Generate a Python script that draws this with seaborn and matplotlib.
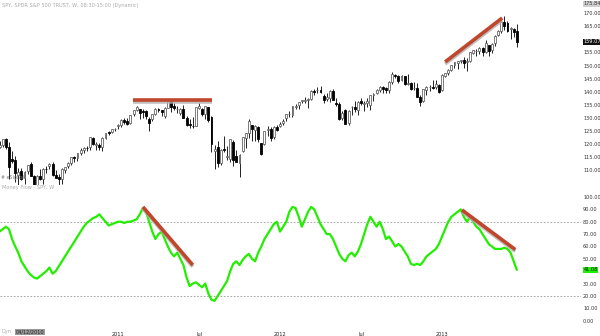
import numpy as np
import pandas as pd
import matplotlib
matplotlib.use("Agg")
import matplotlib.pyplot as plt
import seaborn as sns

# ---------------- data ----------------
week_start = "2010-04-12"
opens = [119.0, 119.5, 121.9, 119.0, 114.2, 113.9, 108.0, 109.5, 107.0, 109.7, 112.5, 107.7, 102.5, 107.9, 106.5, 110.5,
         111.5, 112.2, 108.0, 107.3, 106.4, 110.2, 111.5, 112.8, 114.8, 114.6, 116.6, 117.5, 118.5, 118.7, 122.3, 119.7,
         119.6, 118.7, 122.4, 124.4, 124.5, 125.6,
         126.7, 127.1, 129.2, 128.6, 128.0, 131.4, 133.1, 133.4, 132.7, 132.7, 129.6, 129.5, 131.6, 133.5, 132.8, 130.8,
         133.9, 136.6, 134.5, 133.4, 132.0, 133.5, 130.0, 127.5, 127.0, 127.0, 133.7, 133.5, 131.4, 134.0, 130.4, 117.2,
         118.9, 112.7, 118.2, 115.1, 114.1, 120.6, 115.4, 112.7, 117.2, 122.1, 124.3, 127.2, 125.5, 126.4, 120.2, 119.8,
         125.2, 125.8, 122.6, 126.6,
         126.8, 128.0, 130.0, 131.3, 130.9, 134.2, 135.0, 136.5, 136.5, 136.9, 137.3, 140.3, 140.5, 140.6, 138.5, 137.1,
         137.5, 140.2, 135.7, 135.3, 130.0, 133.0, 128.0, 134.0, 134.3, 132.8, 136.3, 135.4, 135.6, 135.0, 138.6, 139.5,
         140.6, 141.8, 141.3, 140.6, 143.6, 146.4, 146.0, 144.3, 145.9, 142.9, 143.3, 141.4, 141.5, 138.0, 136.4, 140.7,
         141.7, 141.9, 141.6, 142.7,
         140.6, 146.0, 147.1, 148.4, 150.2, 150.8, 151.6, 152.0, 151.2, 151.6, 154.9, 155.5, 155.6, 156.9, 155.3, 157.8,
         156.0, 158.7, 161.6, 163.3, 166.8, 166.1, 163.9, 163.9, 163.1]
highs = [121.2, 121.9, 122.1, 120.7, 117.4, 115.2, 110.8, 110.6, 109.6, 112.1, 113.2, 108.0, 108.1, 110.5, 110.7, 111.6,
         112.8, 113.0, 110.2, 108.3, 110.6, 111.3, 113.0, 114.9, 115.3, 116.6, 118.4, 118.9, 119.2, 122.8, 122.8, 120.8,
         120.5, 122.6, 124.2, 124.8, 125.8, 126.2,
         127.6, 129.5, 130.0, 130.0, 131.1, 133.1, 134.4, 133.5, 133.5, 132.8, 130.3, 131.5, 133.9, 133.8, 132.9, 134.0,
         136.6, 137.2, 135.6, 134.5, 133.7, 134.8, 130.7, 129.4, 130.2, 134.1, 135.7, 133.7, 134.7, 134.3, 130.8, 119.7,
         121.3, 118.0, 123.1, 119.3, 121.8, 121.6, 117.8, 116.0, 122.7, 124.3, 129.5, 127.3, 127.4, 126.9, 120.4, 125.0,
         127.0, 126.4, 126.8, 127.3,
         128.4, 129.4, 131.6, 132.5, 134.5, 135.1, 136.2, 137.0, 137.9, 137.4, 140.6, 140.9, 141.6, 142.2, 139.2, 139.4,
         140.5, 141.1, 137.4, 136.0, 132.5, 133.2, 133.0, 134.5, 136.3, 136.3, 137.5, 136.3, 137.7, 138.8, 139.5, 140.9,
         142.0, 142.2, 141.6, 143.9, 147.5, 146.9, 146.2, 146.4, 146.0, 146.7, 143.6, 143.7, 143.4, 138.8, 140.9, 142.3,
         142.6, 144.4, 144.6, 143.0,
         146.6, 147.2, 148.7, 150.3, 151.2, 151.7, 152.3, 153.3, 152.9, 155.0, 156.0, 156.2, 157.0, 157.2, 159.7, 158.0,
         158.5, 161.6, 163.6, 166.9, 169.1, 167.2, 164.9, 164.4, 165.8]
lows = [118.5, 118.8, 117.9, 106.4, 112.7, 105.4, 103.9, 106.1, 104.5, 108.5, 107.6, 101.1, 102.0, 106.3, 104.7, 108.9,
        110.4, 107.9, 106.9, 103.9, 104.7, 108.9, 110.9, 111.8, 113.2, 113.6, 115.9, 116.4, 117.3, 117.8, 119.6, 117.6,
        117.5, 117.1, 122.0, 123.4, 124.2, 124.9,
        125.7, 126.5, 127.5, 127.1, 127.5, 130.8, 132.5, 129.4, 129.9, 129.5, 124.9, 128.8, 130.9, 132.4, 130.6, 129.8,
        133.7, 132.2, 133.0, 131.7, 131.2, 129.9, 127.0, 125.9, 126.0, 126.7, 133.4, 130.5, 129.5, 128.2, 116.8, 110.3,
        111.3, 112.0, 116.9, 113.7, 113.2, 111.6, 112.9, 107.4, 116.8, 118.6, 122.3, 121.0, 121.1, 120.7, 115.8, 119.6,
        123.1, 121.2, 121.7, 124.9,
        126.4, 127.1, 128.8, 130.4, 130.3, 133.4, 133.5, 135.6, 135.8, 133.6, 136.9, 138.6, 139.4, 139.3, 135.8, 136.3,
        136.0, 136.7, 134.4, 129.2, 129.0, 127.8, 127.4, 131.0, 132.4, 131.0, 135.0, 132.5, 134.1, 133.1, 136.3, 139.2,
        140.0, 139.6, 139.3, 139.6, 142.8, 145.4, 143.5, 143.9, 142.6, 142.7, 140.6, 140.7, 137.8, 134.7, 136.2, 138.6,
        140.2, 141.0, 141.0, 139.5,
        140.3, 145.7, 146.3, 148.0, 149.1, 148.8, 151.0, 149.2, 147.8, 151.2, 154.5, 153.5, 154.6, 153.6, 154.8, 153.6,
        154.8, 157.5, 161.2, 162.6, 163.6, 162.7, 160.2, 160.8, 157.2]
closes = [119.4, 121.8, 118.8, 111.2, 113.6, 108.9, 109.4, 106.7, 109.4, 112.0, 107.9, 102.2, 107.9, 106.6, 110.4, 110.3,
          112.2, 108.0, 107.1, 106.6, 110.4, 111.0, 112.6, 114.9, 114.6, 116.5, 117.7, 118.3, 118.3, 122.5, 119.9, 120.0,
          118.8, 122.4, 124.0, 124.3, 125.6, 125.8,
          127.1, 129.3, 128.4, 127.7, 131.1, 133.0, 134.3, 132.0, 132.2, 130.5, 127.9, 131.5, 133.3, 132.9, 132.1, 133.8,
          136.4, 134.3, 133.7, 133.4, 133.2, 130.0, 127.1, 127.1, 126.8, 134.0, 134.4, 131.6, 134.5, 129.3, 120.0, 117.9,
          112.6, 117.8, 117.5, 115.5, 121.8, 113.8, 113.2, 115.6, 122.6, 124.0, 128.6, 125.6, 126.7, 121.9, 116.1, 124.8,
          125.8, 122.1, 126.6, 125.5,
          127.8, 128.8, 131.5, 131.6, 134.5, 134.3, 136.0, 136.6, 137.0, 137.1, 140.3, 139.7, 140.8, 139.8, 137.0, 137.9,
          140.4, 136.8, 135.3, 129.5, 131.8, 127.8, 132.6, 134.3, 133.5, 136.1, 135.5, 135.7, 136.3, 138.6, 139.1, 140.6,
          141.8, 141.1, 140.7, 143.8, 146.6, 146.0, 144.1, 146.1, 142.9, 143.3, 141.2, 141.4, 138.0, 136.0, 140.9, 141.6,
          141.8, 141.4, 143.0, 140.0,
          146.4, 147.1, 148.3, 150.3, 151.2, 151.7, 152.1, 151.0, 151.6, 155.0, 156.0, 155.6, 156.7, 155.2, 158.8, 155.5,
          158.2, 161.4, 163.4, 166.7, 165.2, 163.4, 164.4, 162.7, 159.1]
money_flow = [72, 74, 76, 74, 66, 60, 55, 48, 44, 40, 37, 35, 34, 36, 38, 40, 43, 38, 40, 44, 48, 52, 56, 60, 64, 68,
              72, 76, 79, 81, 83, 84, 86, 83, 80, 77, 78, 79,
              80, 80, 79, 80, 80, 81, 82, 86, 91, 88, 80, 72, 66, 70, 72, 66, 60, 55, 52, 55, 50, 45, 35, 28, 30, 31,
              29, 27, 30, 22, 17, 16, 20, 24, 28, 32, 40, 46, 48, 45, 49, 52, 54, 50, 48, 55, 60, 66, 70, 74, 78, 80,
              72, 76, 80, 88, 92, 91, 84, 76, 82, 88, 92, 90, 84, 78, 74, 70, 70, 66, 60, 54, 50, 48, 53, 55, 52, 56,
              62, 70, 78, 84, 80, 76, 80, 74, 66, 68, 64, 60, 62, 60, 56, 52, 46, 45, 46, 45, 48, 52, 54, 56, 58, 62,
              68, 74, 80, 84, 86, 88, 90, 84, 80, 84, 80, 76, 74, 70, 66, 62, 60, 58, 58, 58, 59, 58, 55, 48, 41.08]
x_tick_labels = ["2011", "Jul", "2012", "Jul", "2013"]
x_tick_dates = ["2011-01-03", "2011-07-04", "2012-01-02", "2012-07-02", "2012-12-31"]
price_ticks = [110, 115, 120, 125, 130, 135, 140, 145, 150, 155, 165, 170]
mf_ticks = [0, 10, 20, 30, 50, 60, 70, 80, 90, 100]
last_price = 159.07
top_price = 175.84
last_mf = 41.08
# trendline annotations (week index / value pairs)
price_resist = [(42.8, 136.8), (68.2, 136.8)]
price_trend = [(143.0, 151.4), (161.3, 168.2)]
mf_trend1 = [(46.0, 92.0), (62.0, 45.0)]
mf_trend2 = [(148.4, 89.5), (165.5, 57.5)]

# ---------------- frame ----------------
dates = pd.date_range(week_start, periods=len(closes), freq="7D")
df = pd.DataFrame({"date": dates, "open": opens, "high": highs, "low": lows,
                   "close": closes, "mf": money_flow})
df["idx"] = np.arange(len(df))
tick_idx = [int(((pd.Timestamp(d) - pd.Timestamp(week_start)).days) // 7) for d in x_tick_dates]

sns.set_theme(style="white")
plt.rcParams["font.family"] = ["DejaVu Sans"]

W, H = 600, 336
fig = plt.figure(figsize=(6, 3.36), dpi=100)
fig.patch.set_facecolor("white")

def px_axes(x0, y0, x1, y1):
    return fig.add_axes([x0 / W, 1 - y1 / H, (x1 - x0) / W, (y1 - y0) / H])

ax1 = px_axes(0, 0, 581, 185)
ax2 = px_axes(0, 186, 581, 326)
xlim = (0.13, 186.6)
FS = 3.6

# candles
up = df["close"] >= df["open"]
ax1.vlines(df["idx"], df["low"], df["high"], color="#222222", lw=0.7, zorder=2)
body_bottom = np.minimum(df["open"], df["close"])
body_h = np.maximum(np.abs(df["close"] - df["open"]), 0.15)
ax1.bar(df["idx"][up], body_h[up], bottom=body_bottom[up], width=0.62,
        color="white", edgecolor="#666666", linewidth=0.6, zorder=3)
ax1.bar(df["idx"][~up], body_h[~up], bottom=body_bottom[~up], width=0.62,
        color="black", edgecolor="black", linewidth=0.6, zorder=3)
ax1.set_xlim(*xlim)
ax1.set_ylim(104.27, 175.09)

# trend lines with shadow
def trend(ax, pts, dy):
    xs = [p[0] for p in pts]; ys = [p[1] for p in pts]
    ax.plot(xs, [y - dy for y in ys], color="#b0b0b0", lw=2.6, solid_capstyle="butt", zorder=4, alpha=0.8)
    ax.plot(xs, ys, color="#c0462c", lw=2.6, solid_capstyle="butt", zorder=5)

trend(ax1, price_resist, 0.8)
trend(ax1, price_trend, 0.8)

# money flow
sns.lineplot(data=df, x="idx", y="mf", ax=ax2, color="#22ee00", lw=1.6, zorder=3)
for lvl in (80, 20):
    ax2.axhline(lvl, color="#999999", lw=0.6, ls=(0, (2, 2)), zorder=1)
trend(ax2, mf_trend1, 1.4)
trend(ax2, mf_trend2, 1.4)
ax2.set_xlim(*xlim)
ax2.set_ylim(-4.3, 108.9)

for ax in (ax1, ax2):
    for s in ax.spines.values():
        s.set_visible(False)
    ax.set_xlabel(""); ax.set_ylabel("")
    ax.yaxis.tick_right()
    ax.tick_params(axis="y", length=0, pad=1.5, labelsize=FS, colors="#333333")
    ax.set_facecolor("white")

ax1.set_yticks(price_ticks)
ax1.set_yticklabels([f"{v:.2f}" for v in price_ticks])
ax1.set_xticks([])
ax2.set_yticks(mf_ticks)
ax2.set_yticklabels([f"{v:.2f}" for v in mf_ticks])
ax2.set_xticks(tick_idx)
ax2.set_xticklabels(x_tick_labels)
ax2.tick_params(axis="x", length=0, pad=4, labelsize=FS, colors="#222222")

# highlighted value boxes on the price axis
ax1.text(1.004, 0.992, f"{top_price:.2f}", transform=ax1.transAxes, fontsize=FS,
         va="top", ha="left", color="#333333", clip_on=False,
         bbox=dict(boxstyle="square,pad=0.12", fc="#cfcfcf", ec="none"))
ax1.text(1.004, last_price, f"{last_price:.2f}", transform=ax1.get_yaxis_transform(), fontsize=FS,
         va="center", ha="left", color="white", clip_on=False,
         bbox=dict(boxstyle="square,pad=0.12", fc="#111111", ec="none"))
ax2.text(1.004, last_mf, f"{last_mf:.2f}", transform=ax2.get_yaxis_transform(), fontsize=FS,
         va="center", ha="left", color="#111111", clip_on=False,
         bbox=dict(boxstyle="square,pad=0.12", fc="#22ee00", ec="none"))

# captions
fig.text(2 / W, 1 - 5 / H, "SPY, SPDR S&P 500 TRUST, W, 08:30-15:00 (Dynamic)", fontsize=3.6,
         color="#aaaaaa", va="center", ha="left")
fig.text(1 / W, 1 - 177 / H, "# eSignal", fontsize=3.4, color="#777777", va="center", ha="left")
fig.text(2 / W, 1 - 188 / H, "Money Flow - SPY, W", fontsize=3.6, color="#aaaaaa", va="center", ha="left")
fig.text(1 / W, 1 - 332 / H, "Dyn", fontsize=3.6, color="#aaaaaa", va="center", ha="left")
fig.text(16 / W, 1 - 332 / H, "04/12/2010", fontsize=3.6, color="#222222", va="center", ha="left",
         bbox=dict(boxstyle="square,pad=0.12", fc="#9a9a9a", ec="none"))

fig.savefig("out.png", dpi=100, facecolor="white")
